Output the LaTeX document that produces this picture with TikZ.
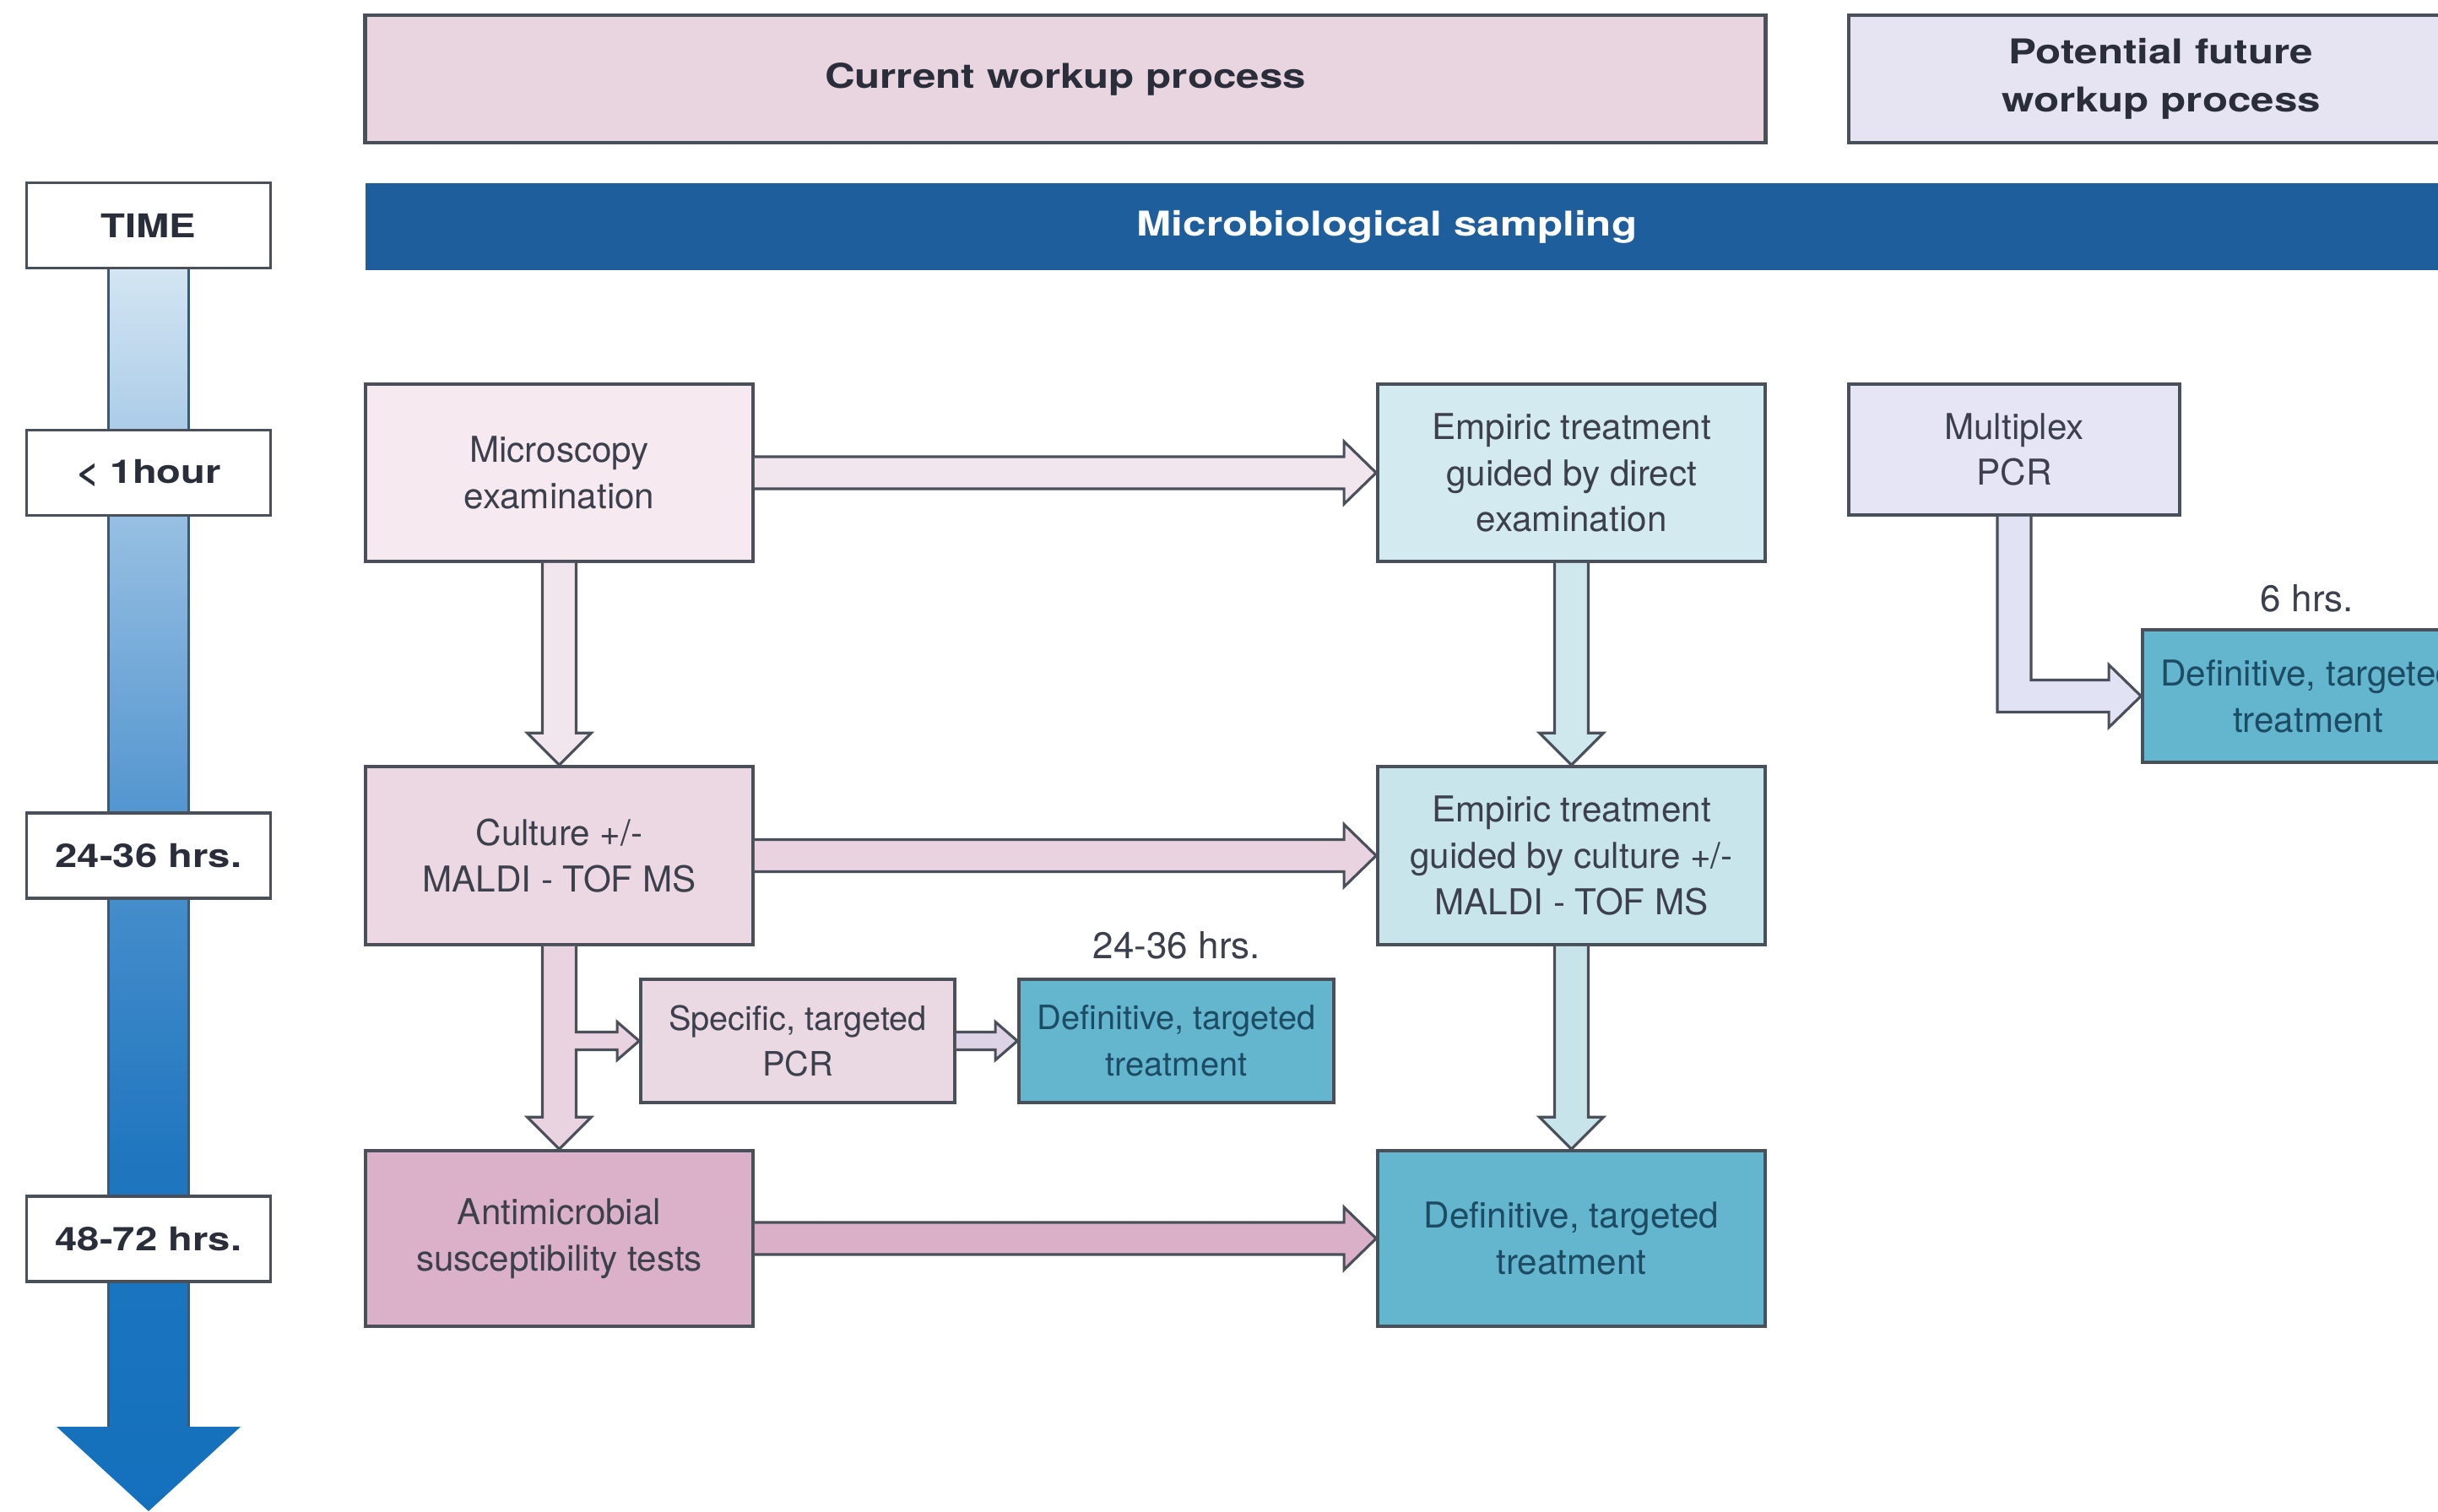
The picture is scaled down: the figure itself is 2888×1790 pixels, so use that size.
\documentclass[tikz,border=0pt]{standalone}
\usepackage{fontspec}
\setmainfont{TeX Gyre Heros}
\newfontfamily\widebf{TeX Gyre Heros}[FakeStretch=1.22]
\usetikzlibrary{calc}
\definecolor{bordc}{HTML}{4A505A}
\definecolor{hdrc}{HTML}{2A2E3A}
\definecolor{txtc}{HTML}{3C404C}
\definecolor{deftxt}{HTML}{1D4B63}
\definecolor{hcurc}{HTML}{E9D5E0}
\definecolor{hfutc}{HTML}{E6E4F3}
\definecolor{sampc}{HTML}{1E5E9C}
\definecolor{microc}{HTML}{F7E9F0}
\definecolor{culc}{HTML}{EBD8E3}
\definecolor{amicc}{HTML}{DAB1C9}
\definecolor{spcrc}{HTML}{EAD8E3}
\definecolor{empdc}{HTML}{D3EAF0}
\definecolor{empcc}{HTML}{C8E5EC}
\definecolor{defc}{HTML}{63B6CD}
\definecolor{mpcrc}{HTML}{E5E5F5}
\definecolor{arrmic}{HTML}{F2E6EE}
\definecolor{arrempd}{HTML}{CFE8EE}
\definecolor{arrcul}{HTML}{EAD3E0}
\definecolor{arrspcr}{HTML}{DCD3E6}
\definecolor{arramic}{HTML}{D9B0C8}
\definecolor{arrempc}{HTML}{C7E4EB}
\definecolor{arrmpcr}{HTML}{E1E2F4}
\definecolor{tc0}{HTML}{1470BD}
\definecolor{tc1}{HTML}{1F76BF}
\definecolor{tc2}{HTML}{4F93CE}
\definecolor{tc3}{HTML}{A5C8E6}
\definecolor{tc4}{HTML}{D3E5F2}
\definecolor{tline}{HTML}{3A5878}
\pgfdeclareverticalshading{tshade}{100bp}{color(0bp)=(tc0); color(25bp)=(tc0); color(39bp)=(tc1); color(52.5bp)=(tc2); color(67.5bp)=(tc3); color(75bp)=(tc4); color(100bp)=(tc4)}
\newcommand\hblock[6]{\draw[barr, fill=#3] ($(#1)+(0,-#4)$) -- ($(#2)+(-#6,-#4)$) -- ($(#2)+(-#6,-#5)$) -- (#2) -- ($(#2)+(-#6,#5)$) -- ($(#2)+(-#6,#4)$) -- ($(#1)+(0,#4)$);}
\newcommand\vblock[6]{\draw[barr, fill=#3] ($(#1)+(-#4,0)$) -- ($(#2)+(-#4,-#6)$) -- ($(#2)+(-#5,-#6)$) -- (#2) -- ($(#2)+(#5,-#6)$) -- ($(#2)+(#4,-#6)$) -- ($(#1)+(#4,0)$);}
\begin{document}
\begin{tikzpicture}[x=0.01cm,y=-0.01cm,
  box/.style={draw=bordc, line width=1pt, rectangle, align=center, text=txtc, font=\fontsize{12}{15.6}\selectfont, inner sep=0pt},
  smallbox/.style={box, font=\fontsize{11.3}{15.6}\selectfont},
  tbox/.style={draw=bordc, line width=1pt, fill=white, minimum width=2.89cm, minimum height=1.01cm, inner sep=0pt, font=\widebf\bfseries\fontsize{11}{13}\selectfont, text=hdrc},
  hdr/.style={draw=bordc, line width=1.2pt, align=center, inner sep=0pt, font=\widebf\bfseries\fontsize{11.5}{16.2}\selectfont, text=hdrc},
  barr/.style={draw=bordc, line width=0.9pt, line join=miter},
  lbl/.style={font=\fontsize{12.5}{15}\selectfont, text=txtc, inner sep=0pt}
]
\useasboundingbox (0,0) rectangle (2888,1790);
\clip (0,0) rectangle (2888,1790);
\fill[white] (0,0) rectangle (2888,1790);

% headers
\node[hdr, fill=hcurc, minimum width=16.58cm, minimum height=1.51cm] (cur) at (1262,93.5) {Current workup process};
\node[hdr, fill=hfutc, minimum width=7.4cm, minimum height=1.51cm] (fut) at (2560,93.5) {Potential future\\workup process};
\fill[sampc] (433,217) rectangle (2900,320);
\node[font=\widebf\bfseries\fontsize{11.5}{14}\selectfont, text=white, inner sep=0pt] (samp) at (1643,268.5) {Microbiological sampling};

% time axis
\node[tbox] (t0) at (176,267) {TIME};
\coordinate (tend) at (176,1790);
\shade[shading=tshade] ($(t0.south)+(-47.5,0)$) -- ($(tend)+(-47.5,-100)$) -- ($(tend)+(-109,-100)$) -- (tend) -- ($(tend)+(109,-100)$) -- ($(tend)+(47.5,-100)$) -- ($(t0.south)+(47.5,0)$) -- cycle;
\draw[tline, line width=1.1pt] ($(t0.south)+(-47.5,0)$) -- ($(tend)+(-47.5,-100)$);
\draw[tline, line width=1.1pt] ($(t0.south)+(47.5,0)$) -- ($(tend)+(47.5,-100)$);
\node[tbox] (t1) at (176,560) {< 1hour};
\node[tbox] (t2) at (176,1013.5) {24-36 hrs.};
\node[tbox] (t3) at (176,1467.5) {48-72 hrs.};

% boxes
\node[box, fill=microc, minimum width=4.59cm, minimum height=2.10cm] (micro) at (662.5,560) {Microscopy\\examination};
\node[box, fill=empdc, minimum width=4.59cm, minimum height=2.10cm] (empd) at (1861.5,560) {Empiric treatment\\guided by direct\\examination};
\node[box, fill=mpcrc, minimum width=3.92cm, minimum height=1.55cm] (mpcr) at (2386,532.5) {Multiplex\\PCR};
\node[box, fill=defc, text=deftxt, minimum width=3.92cm, minimum height=1.57cm] (def6) at (2734,824.5) {Definitive, targeted\\treatment};
\node[box, fill=culc, minimum width=4.59cm, minimum height=2.11cm] (cul) at (662.5,1013.5) {Culture +/-\\MALDI - TOF MS};
\node[box, fill=empcc, minimum width=4.59cm, minimum height=2.11cm] (empc) at (1861.5,1013.5) {Empiric treatment\\guided by culture +/-\\MALDI - TOF MS};
\node[smallbox, fill=spcrc, minimum width=3.72cm, minimum height=1.46cm] (spcr) at (945,1233) {Specific, targeted\\PCR};
\node[smallbox, fill=defc, text=deftxt, minimum width=3.73cm, minimum height=1.46cm] (defm) at (1393.5,1233) {Definitive, targeted\\treatment};
\node[box, fill=amicc, minimum width=4.59cm, minimum height=2.08cm] (amic) at (662.5,1467) {Antimicrobial\\susceptibility tests};
\node[box, fill=defc, text=deftxt, minimum width=4.59cm, minimum height=2.08cm] (defb) at (1861.5,1467) {Definitive, targeted\\treatment};

% labels
\node[lbl] (l2436) at (1394,1120) {24-36 hrs.};
\node[lbl] (l6) at (2733,709) {6 hrs.};

% arrows
\hblock{micro.east}{empd.west}{arrmic}{19}{37}{38}
\vblock{micro.south}{cul.north}{arrmic}{20}{38}{38}
\vblock{empd.south}{empc.north}{arrempd}{20}{38}{38}
\hblock{cul.east}{empc.west}{arrcul}{19}{37}{38}
\vblock{empc.south}{defb.north}{arrempc}{20}{38}{38}
\hblock{amic.east}{defb.west}{arramic}{19}{37}{38}
\hblock{spcr.east}{defm.west}{arrspcr}{10.5}{22.5}{26}

\coordinate (bp) at (spcr.west -| cul.south);
\draw[barr, fill=arrcul] ($(cul.south)+(-20,0)$) -- ($(amic.north)+(-20,-38)$) -- ($(amic.north)+(-38,-38)$) -- (amic.north) -- ($(amic.north)+(38,-38)$) -- ($(amic.north)+(20,-38)$) -- ($(bp)+(20,10.5)$) -- ($(spcr.west)+(-26,10.5)$) -- ($(spcr.west)+(-26,22.5)$) -- (spcr.west) -- ($(spcr.west)+(-26,-22.5)$) -- ($(spcr.west)+(-26,-10.5)$) -- ($(bp)+(20,-10.5)$) -- ($(cul.south)+(20,0)$);

\coordinate (eb) at (def6.west -| mpcr.south);
\draw[barr, fill=arrmpcr] ($(mpcr.south)+(-20,0)$) -- ($(eb)+(-20,19)$) -- ($(def6.west)+(-38,19)$) -- ($(def6.west)+(-38,37)$) -- (def6.west) -- ($(def6.west)+(-38,-37)$) -- ($(def6.west)+(-38,-19)$) -- ($(eb)+(20,-19)$) -- ($(mpcr.south)+(20,0)$);
\end{tikzpicture}
\end{document}
